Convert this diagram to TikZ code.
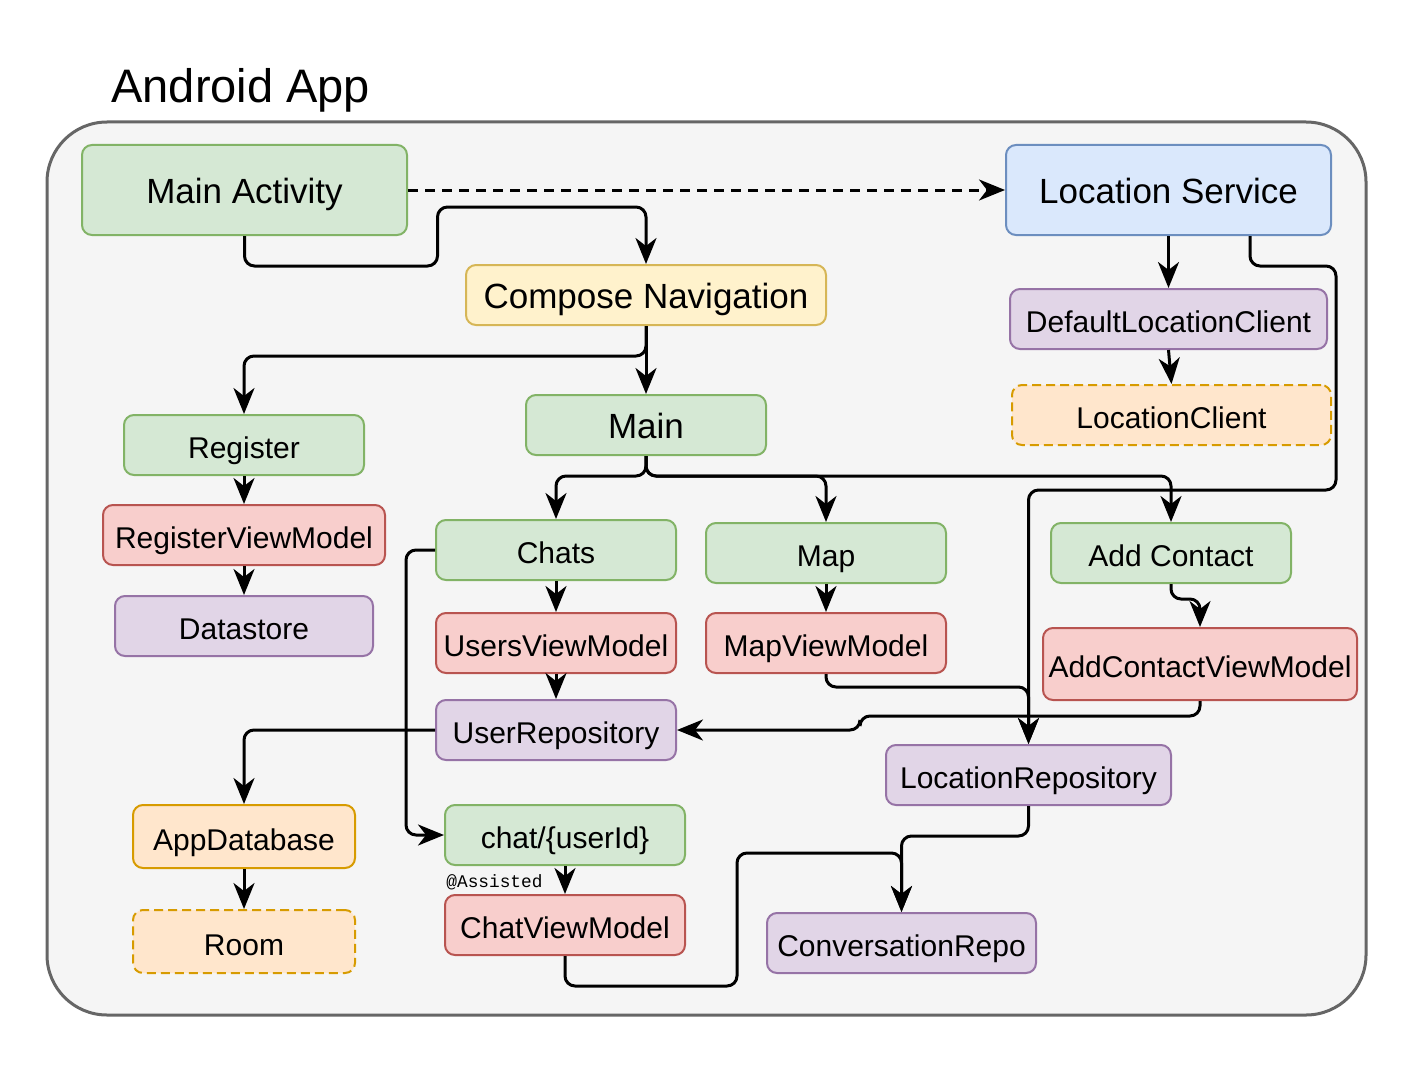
\documentclass[tikz,border=0pt]{standalone}
\usepackage{fontspec}
\setmainfont{Liberation Sans}
\newfontfamily\codefont{Liberation Mono}
\definecolor{acFrame}{HTML}{F5F5F5}
\definecolor{acFrameLine}{HTML}{666666}
\definecolor{acGreen}{HTML}{D5E8D4}
\definecolor{acGreenLine}{HTML}{82B366}
\definecolor{acBlue}{HTML}{DAE8FC}
\definecolor{acBlueLine}{HTML}{6C8EBF}
\definecolor{acYellow}{HTML}{FFF2CC}
\definecolor{acYellowLine}{HTML}{D6B656}
\definecolor{acPurple}{HTML}{E1D5E7}
\definecolor{acPurpleLine}{HTML}{9673A6}
\definecolor{acRed}{HTML}{F8CECC}
\definecolor{acRedLine}{HTML}{B85450}
\definecolor{acOrange}{HTML}{FFE6CC}
\definecolor{acOrangeLine}{HTML}{D79B00}
\usetikzlibrary{arrows.meta}
\newcommand{\bigfont}{\fontsize{17.5}{21}\selectfont}
\newcommand{\midfont}{\fontsize{15}{18}\selectfont}

\begin{document}
\begin{tikzpicture}[
  x=0.5pt, y=-0.5pt,
  box/.style={rounded corners=5pt, line width=1pt, minimum width=120pt,
    minimum height=30pt, inner sep=0pt, align=center, font=\midfont,
    text height=15pt, text depth=1.4pt},
  screen/.style={box, fill=acGreen, draw=acGreenLine},
  vmodel/.style={box, fill=acRed, draw=acRedLine},
  repo/.style={box, fill=acPurple, draw=acPurpleLine},
  store/.style={box, fill=acOrange, draw=acOrangeLine},
  lib/.style={store, dash pattern=on 4.5pt off 2.5pt},
  arr/.style={-{Stealth[length=13pt,width=10.5pt,inset=4pt]}, line width=1.5pt,
    rounded corners=5pt}
]
  \useasboundingbox (0,0) rectangle (1413,1065);

  % frame and title
  \node[rounded corners=30pt, fill=acFrame, draw=acFrameLine, line width=1.5pt,
    minimum width=659.5pt, minimum height=446.5pt] (app) at (706.5,568.5) {};
  \node[anchor=west, inner sep=0pt, font=\fontsize{23.5}{28}\selectfont] (title)
    at (111,90) {Android App};

  % activity, service and navigation
  \node[screen, minimum width=162.5pt, minimum height=45pt, font=\bigfont]
    (mainact) at (244.5,190) {Main Activity};
  \node[box, fill=acBlue, draw=acBlueLine, minimum width=162.5pt,
    minimum height=45pt, font=\bigfont] (locsvc) at (1168.5,190) {Location Service};
  \node[box, fill=acYellow, draw=acYellowLine, minimum width=180pt, font=\bigfont]
    (compnav) at (646,295) {Compose Navigation};
  \node[repo, minimum width=158.5pt] (deflc) at (1168.5,319) {DefaultLocationClient};
  \node[lib, minimum width=159.5pt] (locclient) at (1171.5,415) {LocationClient};

  % screens
  \node[screen, font=\bigfont] (mainscr) at (646,425) {Main};
  \node[screen] (register) at (244,445) {Register};
  \node[screen] (chats) at (556,550) {Chats};
  \node[screen] (mapscr) at (826,553) {Map};
  \node[screen] (addcontact) at (1171,553) {Add Contact};
  \node[screen] (chatuid) at (565,835) {chat/\{userId\}};

  % view models
  \node[vmodel, minimum width=141pt] (regvm) at (244,535) {RegisterViewModel};
  \node[vmodel] (usersvm) at (556,643) {UsersViewModel};
  \node[vmodel] (mapvm) at (826,643) {MapViewModel};
  \node[vmodel, minimum width=157pt, minimum height=36pt] (addcvm)
    at (1200,664) {AddContactViewModel};
  \node[vmodel] (chatvm) at (565,925) {ChatViewModel};

  % data layer
  \node[repo, minimum width=129pt] (datastore) at (244,626) {Datastore};
  \node[repo] (userrepo) at (556,730) {UserRepository};
  \node[repo, minimum width=142.5pt] (locrepo) at (1028.5,775) {LocationRepository};
  \node[repo, minimum width=134.5pt] (convrepo) at (901.5,943) {ConversationRepo};
  \node[store, minimum width=111pt, minimum height=31.5pt] (appdb)
    at (244,836.5) {AppDatabase};
  \node[lib, minimum width=111pt, minimum height=31.5pt] (room)
    at (244,941.5) {Room};
  \node[anchor=west, inner sep=0pt, font=\codefont\fontsize{8.9}{10}\selectfont]
    (assisted) at (446,882) {@Assisted};

  % connectors
  \draw[arr, dash pattern=on 5pt off 3.5pt] (mainact.east) -- (locsvc.west);
  \draw[arr] (mainact.south) -- ++(0,30) -| ++(193,-59) -| (compnav.north);
  \draw[arr] (compnav.south) -- (mainscr.north);
  \draw[arr] (compnav.south) -- ++(0,30) -| (register.north);
  \draw[arr] (locsvc.south) -- (deflc.north);
  \draw[arr] (deflc.south) -- (locclient.north);
  \draw[arr] ([xshift=40.75pt]locsvc.south) -- ++(0,30) -| (1336,490) -| (locrepo.north);
  \draw[arr] (mainscr.south) -- ++(0,20) -| (chats.north);
  \draw[arr] (mainscr.south) -- ++(0,20) -| (mapscr.north);
  \draw[arr] (mainscr.south) -- ++(0,20) -| (addcontact.north);
  \draw[arr] (register.south) -- (regvm.north);
  \draw[arr] (regvm.south) -- (datastore.north);
  \draw[arr] (chats.south) -- (usersvm.north);
  \draw[arr] (usersvm.south) -- (userrepo.north);
  \draw[arr] (chats.west) -- ++(-29,0) |- (chatuid.west);
  \draw[arr] (userrepo.west) -| (appdb.north);
  \draw[arr] (appdb.south) -- (room.north);
  \draw[arr] (mapscr.south) -- (mapvm.north);
  \draw[arr] (mapvm.south) -- ++(0,13) -| (locrepo.north);
  \draw[arr] (addcontact.south) -- ++(0,15) -| (addcvm.north);
  \draw[arr] (addcvm.south) -- ++(0,15) -| (860,730) -- (userrepo.east);
  \draw[arr] (locrepo.south) -- ++(0,30) -| (convrepo.north);
  \draw[arr] (chatuid.south) -- (chatvm.north);
  \draw[arr] (chatvm.south) -- ++(0,30) -| (737,853) -| (convrepo.north);
\end{tikzpicture}
\end{document}
